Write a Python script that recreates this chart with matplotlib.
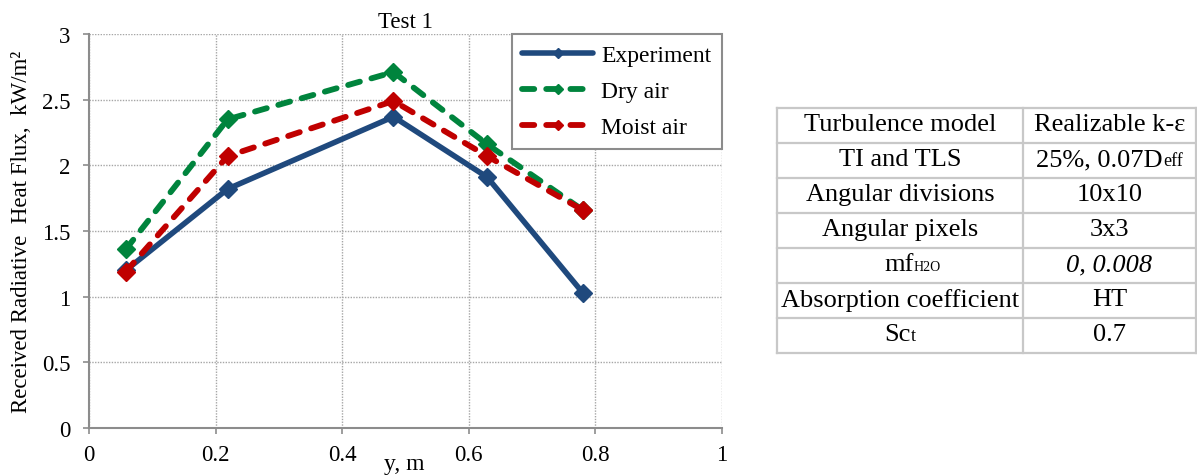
import matplotlib
matplotlib.use("Agg")
import matplotlib.pyplot as plt
from matplotlib.offsetbox import TextArea, HPacker, AnnotationBbox

plt.rcParams['font.family'] = ['Liberation Serif', 'DejaVu Serif']

# ---- chart data ----
y_pos = [0.058, 0.219, 0.481, 0.629, 0.780]
experiment = [1.20, 1.82, 2.37, 1.91, 1.03]
dry_air = [1.36, 2.35, 2.71, 2.16, 1.66]
moist_air = [1.19, 2.07, 2.49, 2.07, 1.66]
series_names = ["Experiment", "Dry air", "Moist air"]
x_ticks = [0, 0.2, 0.4, 0.6, 0.8, 1]
y_ticks = [0, 0.5, 1, 1.5, 2, 2.5, 3]

# ---- settings table ----
param_names = ["Turbulence model", "TI and TLS", "Angular divisions",
               "Angular pixels", "mf", "Absorption coefficient", "Sc"]
param_subs = ["", "", "", "", "H2O", "", "t"]
param_values = ["Realizable k-\u03b5", "25%, 0.07D", "10x10", "3x3",
                "0, 0.008", "HT", "0.7"]
value_subs = ["", "eff", "", "", "", "", ""]
italic_values = [False, False, False, False, True, False, False]

W, H = 1197, 477
fig = plt.figure(figsize=(W / 100, H / 100), dpi=100)

ax = fig.add_axes([89 / W, 1 - 429 / H, 633 / W, 394 / H])

blue = "#1F497D"
green = "#00843D"
red = "#C00000"
axis_grey = "#8C8C8C"

ax.plot(y_pos, experiment, color=blue, lw=4.0, marker="D", ms=9,
        mec=blue, mew=1, solid_capstyle="round", solid_joinstyle="miter",
        label=series_names[0], zorder=3)
ax.plot(y_pos, dry_air, color=green, lw=4.2, marker="D", ms=9,
        mec=green, mew=1, dashes=(2.1, 2.05), dash_capstyle="round",
        label=series_names[1], zorder=4)
ax.plot(y_pos, moist_air, color=red, lw=4.2, marker="D", ms=9,
        mec=red, mew=1, dashes=(2.1, 2.05), dash_capstyle="round",
        label=series_names[2], zorder=5)

ax.set_xlim(0, 1)
ax.set_ylim(0, 3)
ax.set_xticks(x_ticks)
ax.set_yticks(y_ticks)
ax.set_xticklabels([f"{v:g}" for v in x_ticks])
ax.set_yticklabels([f"{v:g}" for v in y_ticks])

ax.grid(True, color="#A6A6A6", linestyle=(0, (1, 1)), linewidth=1.0)
ax.set_axisbelow(True)
for s in ("top", "right"):
    ax.spines[s].set_visible(False)
for s in ("left", "bottom"):
    ax.spines[s].set_color(axis_grey)
    ax.spines[s].set_linewidth(1.5)
ax.tick_params(axis="both", direction="out", length=4.5, width=1.2,
               color=axis_grey, labelsize=16.5)
ax.tick_params(axis="x", pad=7.0)
ax.tick_params(axis="y", pad=9.0)

ax.set_title("Test 1", fontsize=16.5, pad=5)
ax.set_ylabel("Received Radiative  Heat Flux,  kW/m\u00b2", fontsize=16.5,
              labelpad=7)
ax.set_xlabel("y, m", fontsize=17, va="baseline")
ax.xaxis.set_label_coords((404 - 89) / 633, (429 - 470) / 394)

leg = ax.legend(loc="upper right", bbox_to_anchor=(1, 1), borderaxespad=0,
                fontsize=17, handlelength=3.0, handletextpad=0.35,
                labelspacing=0.62, borderpad=0.45, markerscale=0.55,
                fancybox=False, framealpha=1)
leg.get_frame().set_edgecolor("#8C8C8C")
leg.get_frame().set_linewidth(1.5)

# ---- table ----
t_left, t_right, t_top, t_bottom = 777, 1196, 108.5, 354
tax = fig.add_axes([t_left / W, 1 - t_bottom / H,
                    (t_right - t_left) / W, (t_bottom - t_top) / H])
n_rows = len(param_names)
tax.set_xlim(0, 1)
tax.set_ylim(n_rows, 0)
tax.axis("off")
col_split = (1023 - t_left) / (t_right - t_left)
line_kw = dict(color="#C8C8C8", lw=1.6, clip_on=False)
for r in range(n_rows + 1):
    tax.plot([0, 1], [r, r], **line_kw)
for xv in (0, col_split, 1):
    tax.plot([xv, xv], [0, n_rows], **line_kw)

cell_fs = 19
sub_fs = 13


def cell_text(x, y, main, sub, italic=False, sub_fs=sub_fs):
    style = "italic" if italic else "normal"
    parts = [TextArea(main, textprops=dict(fontsize=cell_fs, fontstyle=style))]
    if sub:
        parts.append(TextArea(sub, textprops=dict(fontsize=sub_fs)))
    box = HPacker(children=parts, align="baseline", pad=0, sep=0)
    ab = AnnotationBbox(box, (x, y), xycoords="data", frameon=False,
                        box_alignment=(0.5, 0.45), pad=0)
    tax.add_artist(ab)


c0 = col_split / 2
c1 = (col_split + 1) / 2
for r in range(n_rows):
    yc = r + 0.5
    sfs = 10 if param_subs[r] == "H2O" else sub_fs
    x0 = c0 + (0.03 if param_subs[r] == "H2O" else 0)
    cell_text(x0, yc, param_names[r], param_subs[r], sub_fs=sfs)
    cell_text(c1, yc, param_values[r], value_subs[r], italic=italic_values[r])

fig.savefig("out.png", dpi=100)
